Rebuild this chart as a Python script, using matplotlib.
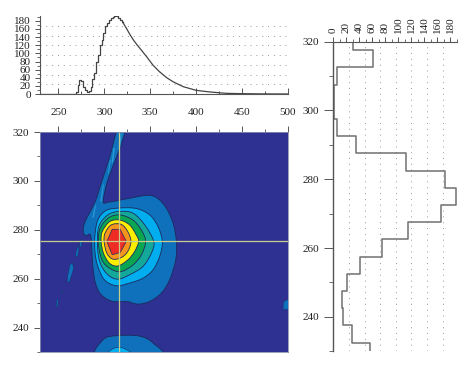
import numpy as np
import matplotlib
matplotlib.use('Agg')
import matplotlib.pyplot as plt
from matplotlib.path import Path
from matplotlib.patches import PathPatch

plt.rcParams['font.family'] = ['Liberation Serif', 'DejaVu Serif']

W, H = 474, 369

# top histogram, stepped part then the long tail
top_x = [230, 266, 268, 270, 272, 274, 276, 278, 280, 282, 284, 286, 288, 290, 292, 294, 296, 298,
         300, 302, 304, 306, 308, 310, 312, 314, 316, 318, 320]
top_y = [0, 0, 0, 6, 22, 34, 31, 18, 9, 6, 8, 18, 36, 52, 80, 96, 120, 134,
         150, 168, 175, 181, 186, 189, 192, 191, 187, 182, 177]
tail_x = [320, 324, 328, 332, 336, 340, 346, 353, 360, 368, 375, 386, 400, 415, 433, 451, 470, 500]
tail_y = [177, 162, 146, 132, 120, 109, 92, 71, 55, 40, 30, 18, 9, 5, 1.6, 0.8, 0.3, 0]

# right histogram, bin edges from the top down
side_edges = [320, 317.5, 312.5, 307.5, 302.5, 297.5, 292.5, 287.5, 282.5, 277.5, 272.5, 267.5,
              262.5, 257.5, 252.5, 247.5, 242.5, 237.5, 232.5, 230]
side_vals = [31, 61, 6, 1, 1.5, 5, 35, 111, 171, 189, 165, 115, 75, 41, 21, 14, 15, 28, 57]

grid_vals = [24, 48, 72, 96, 120, 144, 168]
x_ticks = [250, 300, 350, 400, 450, 500]
y_ticks = [240, 260, 280, 300, 320]
count_ticks = list(range(0, 181, 20))

# contour outlines, outermost first
blue_x = [323.6, 318.5, 312.7, 303.3, 298.9, 304, 313, 327.5, 347.6, 358.5, 367.6, 374.9, 378.5, 377.8,
          371.2, 362.1, 349.4, 336.6, 323.9, 309.3, 296.6, 290.4, 287.5, 286.4, 284.9, 280.2, 277.1,
          279, 289.9, 297.2, 305.4, 315.2]
blue_y = [322, 315, 309.2, 299.7, 291.5, 291.3, 291.8, 292.9, 294.1, 292.7, 288.8, 282.7, 275.2, 267.7,
          259.6, 254.1, 250.7, 249.6, 250.7, 250.7, 253.4, 258.2, 265, 271.8, 277.9, 277.6, 279.1,
          283.2, 291.4, 299.7, 309.2, 322]
cyan_x = [293, 302, 316.6, 334.8, 349.4, 358.5, 363.2, 360.3, 353, 342.1, 327.5, 313, 300.2, 293, 290, 289.7]
cyan_y = [284, 287.9, 288.9, 288.7, 286.1, 281.3, 275.2, 269.1, 263.6, 260.2, 258.2, 257.1, 259.5, 265, 270.4, 277.2]
teal_x = [294, 303.9, 316.6, 331.2, 344, 353.8, 351.2, 342.1, 327.5, 314.8, 303.9, 295.5, 292.6]
teal_y = [281.3, 286.1, 287.5, 286.8, 282, 275.2, 270.4, 265, 261.6, 259.8, 261.6, 266.4, 273.2]
green_x = [294.8, 303.9, 316.6, 331.2, 340.3, 345, 340.3, 331.2, 318.4, 307.5, 298.4, 294]
green_y = [279.9, 284.7, 286.1, 284, 279.9, 275.2, 269.7, 265.6, 262.9, 263.9, 267, 273]
yellow_x = [297.7, 305.7, 316.6, 327.5, 334.8, 337.4, 333, 325.7, 314.8, 305.7, 299.1, 296.6]
yellow_y = [279.2, 283.3, 284, 282, 277.9, 275.2, 271.1, 267.7, 265.2, 266.3, 270.4, 275.2]
orange_x = [300.8, 307.5, 318.4, 325.5, 329, 325.5, 318.4, 309.3, 302.8, 299.8]
orange_y = [278.6, 282, 282.2, 279.3, 275.2, 271.1, 268.6, 268, 270.4, 275.2]
red_x = [302.8, 308.6, 317.3, 324, 317.3, 308.6]
red_y = [275.2, 280.2, 280.2, 275.2, 270.7, 269.8]
lower_x = [293.4, 298.9, 314.8, 338.4, 353, 362.1]
lower_y = [228, 235.1, 236.7, 236.5, 233.7, 228]
lower_cyan_x = [301.3, 310.4, 321.3, 332.2]
lower_cyan_y = [228, 231.5, 231.5, 228]
# small islands left of the peak and at the right edge
island_x = [[259.5, 262, 266.5, 265.5, 262.5, 260], [268.6, 271, 272.5, 271.5, 269.5], [273, 275, 276, 275, 273.5],
            [247.8, 249.5, 249.7, 248], [252.9, 254.5, 254.8, 253.2], [494.5, 495, 500, 502, 500]]
island_y = [[258.8, 258.5, 264, 266.8, 265.5, 261], [269, 269, 272.5, 273.5, 271.5], [273, 273, 275.5, 276.3, 275],
            [248.3, 248.3, 251.5, 251.5], [254.2, 254.2, 255.3, 255.3], [247.5, 250.5, 251.6, 249.5, 247.3]]
# lighter patches inside the streak
streak_x = [[315.5, 317, 319, 318], [308, 309.5, 311.5, 310], [304, 305, 307, 306],
            [295.5, 297, 299.5, 298.5], [287, 288.5, 291, 290]]
streak_y = [[313, 313, 319.5, 319.5], [307.5, 307.5, 313.5, 313.5], [303, 303, 308.5, 308.5],
            [291.5, 291.5, 298.5, 298.5], [285, 285, 290, 290]]

levels = [(blue_x, blue_y, '#0f70bb'), (cyan_x, cyan_y, '#00aeef'), (teal_x, teal_y, '#14a89a'),
          (green_x, green_y, '#0aa651'), (yellow_x, yellow_y, '#ffee00'),
          (orange_x, orange_y, '#f7941d')]

gray = '#555555'
line_col = '#1b2a5c'
fig = plt.figure(figsize=(W / 100, H / 100), dpi=100)


def add_axes(left, top, right, bottom):
    return fig.add_axes([left / W, 1 - bottom / H, (right - left) / W, (bottom - top) / H])


def smooth_outline(ax, xs, ys, color, lw=0.6):
    # closed curve through the read points (catmull-rom as beziers)
    pts = np.column_stack([xs, ys])
    n = len(pts)
    verts = [pts[0]]
    codes = [Path.MOVETO]
    for i in range(n):
        p0, p1, p2, p3 = pts[i - 1], pts[i], pts[(i + 1) % n], pts[(i + 2) % n]
        verts += [p1 + (p2 - p0) / 6, p2 - (p3 - p1) / 6, p2]
        codes += [Path.CURVE4] * 3
    ax.add_patch(PathPatch(Path(verts, codes), facecolor=color, edgecolor=line_col, lw=lw))


# top panel
ax_top = add_axes(40, 16, 288, 94)
for v in grid_vals:
    ax_top.axhline(v, color='#999999', lw=0.7, ls=(0, (1, 5)))
ax_top.step(top_x, top_y, where='mid', color='#444444', lw=0.9)
ax_top.plot(tail_x, tail_y, color='#444444', lw=0.9)
ax_top.set_xlim(230, 500)
ax_top.set_ylim(0, 192)
ax_top.set_yticks(count_ticks)
ax_top.set_yticks(range(0, 191, 10), minor=True)
ax_top.set_xticks(x_ticks)
ax_top.set_xticks(range(250, 501, 25), minor=True)
ax_top.set_xticklabels([])
ax_top.tick_params(axis='x', which='major', direction='in', length=4, width=0.7, color=gray)
ax_top.tick_params(axis='x', which='minor', direction='in', length=2.5, width=0.7, color=gray)
ax_top.tick_params(axis='y', which='major', length=3.5, width=0.7, color=gray, labelsize=8, pad=3, labelcolor='#222222')
ax_top.tick_params(axis='y', which='minor', length=2, width=0.6, color=gray)
ax_top.spines[['top', 'right']].set_visible(False)
ax_top.spines[['left', 'bottom']].set_color(gray)

# contour panel
ax = add_axes(40, 132, 288, 352)
ax.set_facecolor('#2e3192')
for xs, ys, c in levels:
    smooth_outline(ax, xs, ys, c)
ax.fill(red_x, red_y, facecolor='#ee2b24', edgecolor=line_col, lw=0.5)
smooth_outline(ax, lower_x, lower_y, '#0f70bb')
smooth_outline(ax, lower_cyan_x, lower_cyan_y, '#00aeef', lw=0.4)
for xs, ys in zip(island_x, island_y):
    ax.fill(xs, ys, facecolor='#0f70bb', edgecolor=line_col, lw=0.3)
for xs, ys in zip(streak_x, streak_y):
    ax.fill(xs, ys, facecolor='#2a9fd6', edgecolor='none')
ax.axvline(315.5, color='#c9cc8a', lw=0.9)
ax.axhline(275.6, color='#c9cc8a', lw=0.9)
ax.set_xlim(230, 500)
ax.set_ylim(230, 320)
ax.set_xticks(x_ticks)
ax.set_xticks(range(250, 501, 25), minor=True)
ax.set_yticks(y_ticks)
ax.set_yticks(range(230, 321, 10), minor=True)
ax.xaxis.tick_top()
ax.tick_params(axis='x', which='major', length=4, width=0.7, color=gray, labelsize=8, pad=7, labelcolor='#222222')
ax.tick_params(axis='x', which='minor', length=2, width=0.6, color=gray)
ax.tick_params(axis='y', which='major', length=4, width=0.7, color=gray, labelsize=8, pad=4, labelcolor='#222222')
ax.tick_params(axis='y', which='minor', length=2, width=0.6, color=gray)
for s in ax.spines.values():
    s.set_color('#8a8fb0')
    s.set_linewidth(0.6)

# right panel
ax_side = add_axes(333.3, 41.7, 457, 351.3)
edges = np.array(side_edges)
vals = np.array(side_vals)
step_x = np.repeat(vals, 2)
step_y = np.column_stack([edges[:-1], edges[1:]]).ravel()
for v in grid_vals:
    ax_side.axvline(v, color='#999999', lw=0.7, ls=(0, (1, 5)))
ax_side.plot(step_x, step_y, color='#707070', lw=1.1)
ax_side.set_xlim(0, 190)
ax_side.set_ylim(230, 320)
ax_side.xaxis.tick_top()
ax_side.set_xticks(count_ticks)
ax_side.set_xticks(range(0, 191, 10), minor=True)
ax_side.set_xticklabels(count_ticks, rotation=90)
ax_side.set_yticks(y_ticks)
ax_side.set_yticks(range(230, 321, 10), minor=True)
ax_side.tick_params(axis='x', which='major', length=3.5, width=0.7, color=gray, labelsize=8, pad=3, labelcolor='#222222')
ax_side.tick_params(axis='x', which='minor', length=2, width=0.6, color=gray)
ax_side.tick_params(axis='y', which='major', length=6.5, width=0.7, color=gray, labelsize=8, pad=4, labelcolor='#222222')
ax_side.tick_params(axis='y', which='minor', length=3, width=0.6, color=gray)
ax_side.spines[['bottom', 'right']].set_visible(False)
ax_side.spines[['left', 'top']].set_color(gray)
ax_side.spines['left'].set_linewidth(1.0)

fig.savefig('out.png', dpi=100)
